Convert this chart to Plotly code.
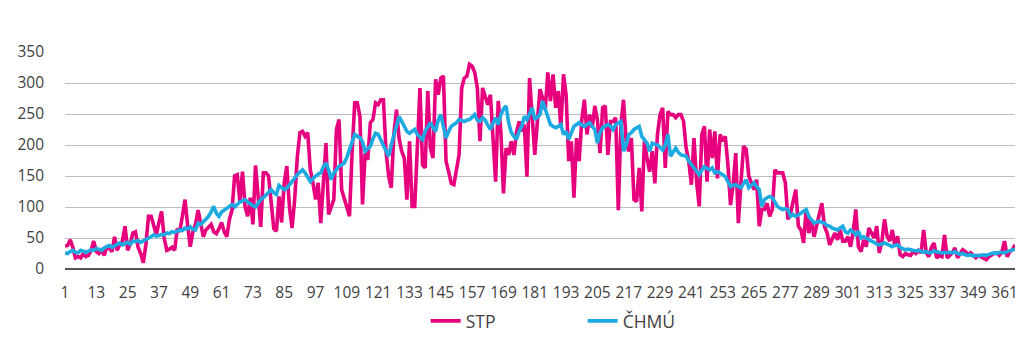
import plotly.graph_objects as go

days = list(range(1, 366))
x_ticks = list(range(1, 366, 12))
y_ticks = [0, 50, 100, 150, 200, 250, 300, 350]

stp = [
    37, 38, 47, 35, 18, 20, 18, 25, 20, 22,
    30, 45, 28, 25, 30, 22, 35, 33, 28, 52,
    30, 40, 45, 69, 30, 40, 58, 60, 35, 25,
    10, 40, 85, 85, 70, 55, 75, 93, 50, 30,
    32, 35, 30, 65, 60, 85, 112, 70, 36, 60,
    72, 95, 70, 52, 63, 68, 72, 60, 57, 65,
    75, 60, 52, 80, 95, 150, 152, 110, 157, 100,
    85, 115, 72, 167, 110, 68, 155, 155, 150, 100,
    65, 61, 117, 75, 139, 166, 100, 66, 112, 180,
    220, 222, 214, 220, 160, 139, 112, 139, 74, 139,
    203, 88, 100, 112, 225, 241, 128, 112, 100, 85,
    187, 268, 268, 246, 104, 187, 176, 236, 241, 268,
    265, 273, 273, 190, 150, 131, 217, 257, 211, 190,
    179, 112, 206, 101, 101, 195, 292, 168, 163, 287,
    195, 179, 306, 281, 308, 311, 174, 157, 138, 136,
    160, 184, 292, 308, 311, 330, 327, 317, 292, 206,
    292, 279, 265, 281, 200, 141, 271, 222, 122, 195,
    184, 206, 184, 220, 238, 222, 233, 149, 308, 238,
    184, 238, 290, 276, 257, 317, 271, 314, 260, 287,
    228, 314, 281, 174, 206, 115, 211, 174, 240, 273,
    217, 249, 228, 263, 240, 187, 260, 263, 184, 238,
    238, 244, 95, 233, 273, 206, 190, 211, 112, 109,
    163, 93, 206, 179, 157, 190, 138, 217, 249, 260,
    163, 254, 249, 249, 244, 249, 249, 238, 195, 174,
    136, 211, 141, 101, 217, 230, 141, 225, 179, 222,
    146, 217, 206, 214, 168, 103, 136, 187, 74, 139,
    198, 193, 150, 139, 128, 144, 69, 96, 96, 106,
    85, 96, 160, 155, 155, 155, 139, 80, 90, 112,
    128, 69, 63, 42, 96, 58, 80, 52, 69, 85,
    106, 69, 58, 39, 50, 58, 47, 63, 45, 45,
    52, 36, 60, 96, 36, 28, 47, 36, 66, 58,
    50, 69, 26, 45, 80, 53, 45, 63, 36, 53,
    23, 20, 25, 23, 22, 28, 25, 30, 26, 63,
    26, 20, 35, 42, 18, 22, 20, 55, 18, 22,
    26, 34, 18, 25, 31, 28, 23, 26, 22, 18,
    22, 20, 18, 15, 20, 23, 25, 26, 22, 28,
    45, 20, 28, 31, 39,
]

chmu = [
    26, 25, 28, 30, 27, 26, 30, 28, 27, 29,
    31, 30, 33, 32, 30, 34, 36, 38, 35, 37,
    40, 42, 39, 41, 43, 40, 45, 44, 46, 43,
    45, 48, 50, 52, 55, 53, 54, 56, 55, 58,
    57, 60, 59, 61, 63, 62, 66, 65, 68, 64,
    63, 74, 72, 76, 80, 85, 92, 101, 90, 85,
    92, 95, 98, 102, 104, 100, 105, 108, 110, 112,
    108, 104, 102, 100, 106, 112, 115, 120, 125, 128,
    123, 120, 135, 132, 128, 130, 136, 141, 146, 152,
    156, 160, 155, 148, 141, 146, 150, 153, 155, 165,
    171, 160, 144, 155, 160, 166, 168, 171, 180, 193,
    205, 217, 214, 212, 205, 190, 194, 198, 210, 219,
    217, 209, 200, 190, 182, 200, 217, 235, 246, 238,
    230, 222, 219, 222, 225, 217, 212, 209, 222, 230,
    236, 228, 222, 240, 249, 230, 211, 222, 230, 233,
    236, 241, 239, 238, 240, 241, 245, 249, 240, 238,
    244, 240, 232, 225, 235, 244, 233, 249, 258, 263,
    236, 220, 214, 209, 222, 230, 246, 241, 250, 260,
    241, 245, 249, 271, 258, 246, 233, 230, 228, 230,
    233, 217, 222, 209, 220, 230, 233, 236, 232, 230,
    233, 236, 230, 225, 203, 220, 228, 231, 233, 230,
    225, 233, 236, 238, 190, 200, 217, 220, 225, 228,
    230, 214, 208, 203, 190, 203, 201, 200, 196, 192,
    200, 217, 182, 190, 195, 188, 184, 183, 182, 174,
    168, 163, 158, 152, 160, 165, 162, 160, 163, 155,
    157, 155, 152, 149, 140, 133, 135, 136, 133, 131,
    138, 144, 131, 135, 139, 133, 128, 101, 112, 115,
    117, 115, 108, 101, 98, 96, 97, 96, 85, 88,
    85, 87, 90, 93, 96, 85, 80, 74, 76, 77,
    75, 74, 70, 69, 66, 65, 63, 66, 69, 60,
    58, 63, 60, 55, 61, 50, 52, 50, 47, 45,
    43, 40, 39, 41, 42, 40, 38, 36, 38, 39,
    35, 33, 31, 32, 31, 30, 29, 30, 28, 27,
    28, 26, 27, 29, 28, 27, 26, 27, 26, 27,
    26, 28, 25, 24, 25, 23, 22, 23, 21, 22,
    21, 22, 23, 22, 24, 25, 26, 25, 27, 27,
    26, 28, 29, 30, 32,
]

assert len(stp) == 365 and len(chmu) == 365

FONT = "'Open Sans', sans-serif"
TXT = "#3f3f3f"

fig = go.Figure()
fig.add_trace(go.Scatter(x=days, y=stp, mode="lines", name="STP",
                         line=dict(color="#E6007E", width=3.6)))
fig.add_trace(go.Scatter(x=days, y=chmu, mode="lines", name="ČHMÚ",
                         line=dict(color="#1DA9E1", width=3.6)))

fig.update_layout(
    width=1024, height=341,
    margin=dict(l=65, r=9, t=52, b=72, autoexpand=False),
    paper_bgcolor="white", plot_bgcolor="white",
    font=dict(family=FONT, size=15.5, color=TXT),
    showlegend=True,
    legend=dict(orientation="h", xref="container", yref="container",
                x=0.569, xanchor="center", y=1 - 321 / 341, yanchor="middle",
                font=dict(size=17.5, color=TXT), entrywidth=112, entrywidthmode="pixels",
                itemwidth=30, bgcolor="rgba(0,0,0,0)"),
)
fig.update_xaxes(range=[1, 365], tickmode="array", tickvals=x_ticks,
                 ticktext=[str(v) for v in x_ticks], showgrid=False, zeroline=False,
                 showline=False, ticks="", ticklabelstandoff=12,
                 tickfont=dict(size=15.5, color=TXT))
fig.update_yaxes(range=[0, 350], tickmode="array", tickvals=y_ticks,
                 showgrid=True, gridcolor="#BDBDBD", gridwidth=1,
                 zeroline=True, zerolinecolor="#555555", zerolinewidth=2,
                 ticks="", ticklabelstandoff=20,
                 tickfont=dict(size=15.5, color=TXT))

fig.write_html("out.html")
